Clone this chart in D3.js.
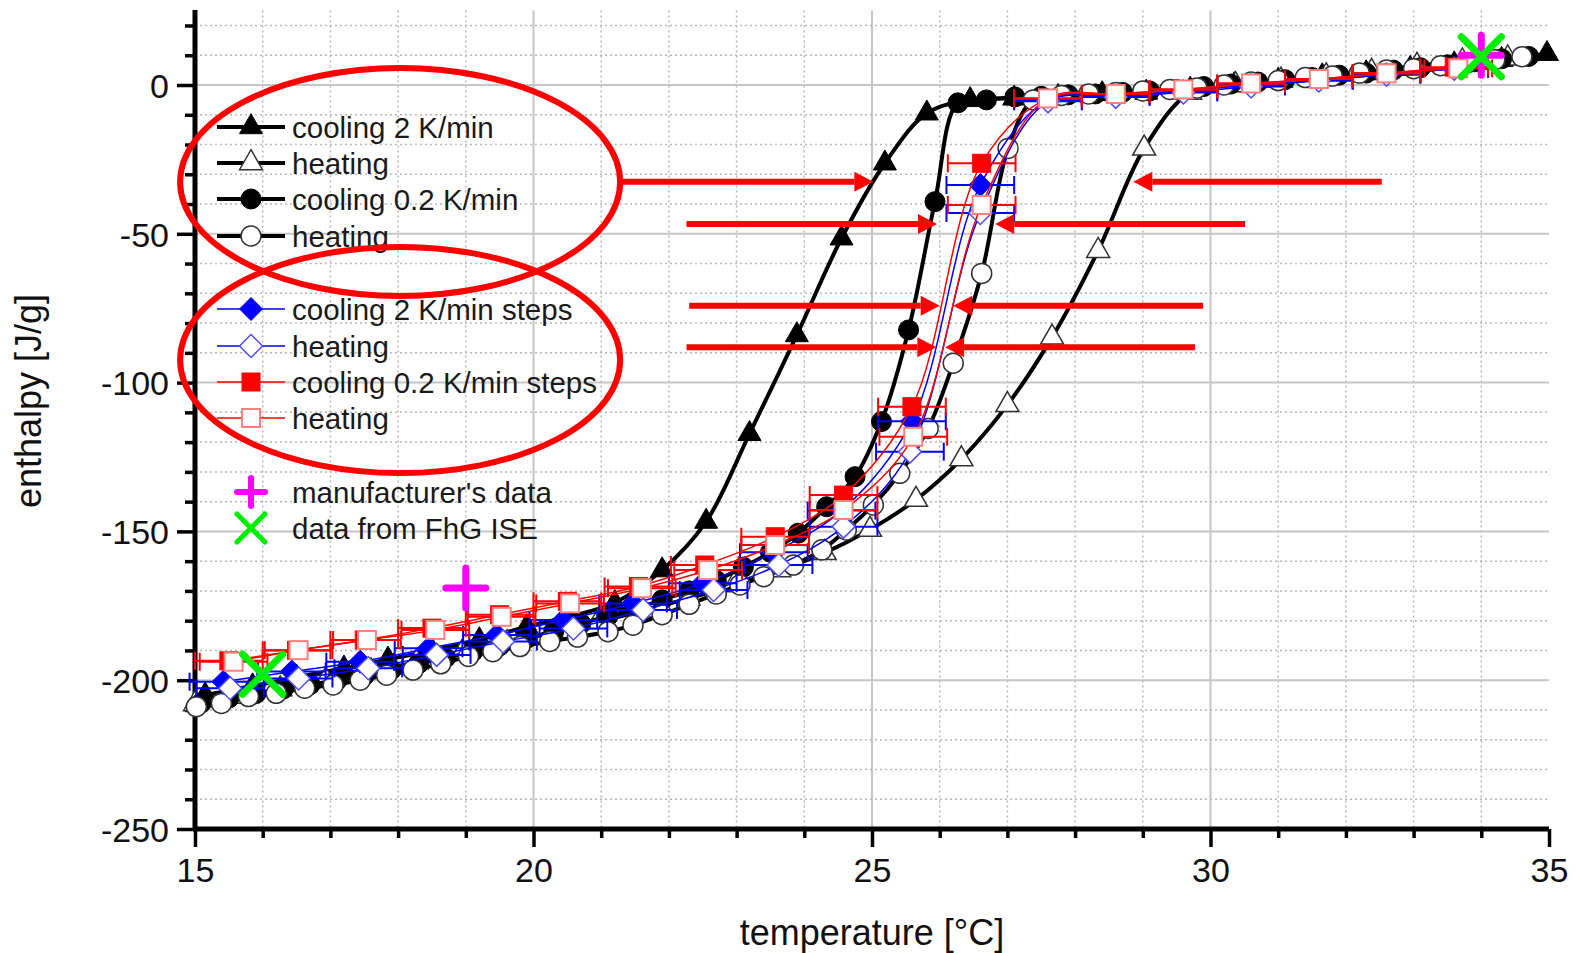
<!DOCTYPE html>
<html>
<head>
<meta charset="utf-8">
<script src="https://cdn.jsdelivr.net/npm/d3@7/dist/d3.min.js"></script>
<style>
body { margin: 0; background: #fff; }
svg { display: block; font-family: "Liberation Sans", Arial, sans-serif; }
</style>
</head>
<body>
<div id="chart"></div>
<script>
// all points are [temperature °C, enthalpy J/g]

var cooling2 = [[15.15,-205],[15.85,-202],[16.5,-199],[17.2,-196],[17.85,-193],[18.5,-190],[19.2,-186.5],[19.9,-182],
  [20.55,-178.5],[21.2,-174],[21.9,-163],[22.55,-146.7],[23.19,-117.2],[23.89,-84],[24.55,-51.5],[25.19,-26.3],
  [25.81,-9.5],[26.45,-5],[27.1,-4.5],[27.75,-4],[28.4,-3],[29.05,-2.5],[29.7,-1.5],[30.35,0],[31.0,1.5],
  [31.65,3],[32.3,4],[32.95,5.5],[33.6,7],[34.3,8.5],[34.97,10.5]];

var heating2 = [[15.0,-208],[15.59,-205.5],[16.26,-203],[16.93,-200],[17.6,-197],[18.27,-194],[18.94,-191],
  [19.61,-187.5],[20.28,-184],[20.95,-180.5],[21.62,-176.5],[22.29,-172.5],[22.96,-168],[23.63,-163],[24.3,-157.2],
  [24.97,-149.4],[25.65,-139.3],[26.32,-125.7],[27.0,-107.5],[27.66,-84.8],[28.34,-55.7],[29.02,-21.3],[29.7,-2.5],
  [30.37,0],[31.04,1.5],[31.71,3],[32.38,4.5],[33.05,6.5],[33.72,8],[34.39,9]];

var cooling02 = [[15.1,-207.5],[15.5,-206],[15.9,-204.5],[16.3,-203],[16.7,-201.5],[17.1,-200],[17.5,-198.5],
  [17.9,-196.5],[18.3,-194.5],[18.7,-192.5],[19.1,-190.5],[19.5,-188.5],[19.9,-186],[20.3,-183.5],[20.7,-181],
  [21.1,-178.5],[21.5,-176],[21.9,-173],[22.3,-170],[22.7,-166.5],[23.1,-162],[23.5,-157],[23.91,-150.6],
  [24.33,-141.7],[24.75,-131.6],[25.14,-113.1],[25.54,-82.3],[25.93,-39.2],[26.27,-6],[26.69,-5],[27.11,-4],
  [27.5,-3.8],[27.9,-3.3],[28.3,-3],[28.7,-2.5],[29.1,-2],[29.5,-1.5],[29.9,-0.5],[30.3,0.3],[30.7,1],[31.1,1.8],
  [31.5,2.5],[31.9,3.3],[32.3,4],[32.7,5],[33.1,5.8],[33.5,6.8],[33.9,7.8],[34.3,8.8],[34.7,9.6]];

var heating02 = [[15.02,-208.9],[15.39,-207.8],[15.79,-205.5],[16.2,-204.4],[16.62,-202.7],[17.04,-201.6],
  [17.44,-200],[17.83,-198.3],[18.22,-196.6],[18.63,-194.5],[19.04,-192],[19.4,-190.4],[19.8,-188.7],[20.24,-187],
  [20.65,-185.5],[21.1,-183.7],[21.47,-181.5],[21.9,-178],[22.3,-174.5],[22.7,-171],[23.05,-168],[23.4,-165.2],
  [23.84,-161.3],[24.26,-156.2],[24.62,-149.5],[25.02,-141.1],[25.41,-130.5],[25.83,-115.4],[26.2,-93.5],
  [26.62,-63.3],[27.01,-21.3],[27.38,-5],[27.8,-3.5],[28.2,-3],[28.6,-2.5],[29.0,-2],[29.4,-1.5],[29.8,-1],
  [30.2,0],[30.6,1],[31.0,1.5],[31.4,2.5],[31.8,3],[32.2,4],[32.6,5],[33.0,5.5],[33.4,6.5],[33.8,7.5],[34.2,8.5],[34.6,9.5]];

var cooling2Steps = [[15.42,-200.5],[16.43,-197.1],[17.44,-193.8],[18.45,-189.3],[19.46,-184.8],[20.44,-179.8],
  [21.47,-174.2],[22.5,-167.4],[23.55,-157],[24.55,-143],[25.59,-113],[26.6,-33.6],[27.6,-5],[28.6,-3.5],
  [29.6,-2],[30.6,0],[31.6,1.5],[32.6,3.5],[33.6,5.5]];

var heating2Steps = [[15.52,-202.7],[16.53,-199.4],[17.56,-196],[18.57,-191.5],[19.55,-187],[20.59,-182.6],
  [21.62,-176.4],[22.66,-169.7],[23.62,-161.3],[24.58,-148.4],[25.56,-123.2],[26.6,-43],[27.6,-5.5],[28.6,-4],
  [29.6,-2.5],[30.6,-0.5],[31.6,1.5],[32.6,3.5],[33.6,5.5]];

var cooling02Steps = [[15.5,-193.5],[16.5,-190],[17.5,-186.5],[18.5,-182.5],[19.5,-178],[20.5,-173.5],
  [21.55,-168.5],[22.53,-161.3],[23.57,-151.8],[24.58,-137.8],[25.59,-108.1],[26.62,-26.3],[27.6,-4.5],
  [28.6,-3],[29.6,-1.5],[30.6,0.5],[31.6,2],[32.6,4],[33.6,6]];

var heating02Steps = [[15.57,-193.8],[16.53,-189.9],[17.54,-186.5],[18.55,-183.1],[19.53,-178.7],[20.54,-174.2],
  [21.6,-169.1],[22.58,-163],[23.57,-154.6],[24.58,-142.8],[25.61,-118.2],[26.62,-40.3],[27.6,-4.5],[28.6,-3],
  [29.6,-1.5],[30.6,0.5],[31.6,2],[32.6,3.9],[33.66,5.6]];

var stepError = 0.5; // K, horizontal error of the step measurements

var manufacturerData = [[19,-169],[34,10]];
var fhgData = [[16,-198],[34,9.5]];

var xTicks = [15, 20, 25, 30, 35];
var yTicks = [-250, -200, -150, -100, -50, 0];

var legendLabels = ["cooling 2 K/min", "heating", "cooling 0.2 K/min", "heating",
  "cooling 2 K/min steps", "heating", "cooling 0.2 K/min steps", "heating",
  "manufacturer's data", "data from FhG ISE"];

// annotation arrows: [enthalpy level, start temperature, tip temperature]
var arrows = [[-32.5,21.28,25.02],[-46.7,22.26,25.96],[-46.7,30.51,26.82],[-32.5,32.53,28.86],
  [-74.2,22.3,26.0],[-74.2,29.89,26.2],[-88.1,22.26,25.95],[-88.1,29.77,26.08]];
// annotation ellipses: [centre temperature, centre enthalpy, half width K, half height J/g]
var ellipses = [[18.03,-32.6,3.25,38.3],[18.03,-92.4,3.25,38]];

var width = 1582, height = 953;

var svg = d3.select("#chart").append("svg")
  .attr("width", width)
  .attr("height", height);

var x = d3.scaleLinear().domain([15, 35]).range([195, 1549]);
var y = d3.scaleLinear().domain([-250, 25]).range([829, 10.6]);

// grid
var grid = svg.append("g");
d3.range(16, 35).forEach(function (t) {
  var major = t % 5 == 0;
  grid.append("line")
    .attr("x1", x(t)).attr("x2", x(t)).attr("y1", y(25)).attr("y2", y(-250))
    .attr("stroke", major ? "#c6c6c6" : "#b8b8b8")
    .attr("stroke-width", major ? 2 : 1.5)
    .attr("stroke-dasharray", major ? null : "2,3");
});
d3.range(-240, 21, 10).forEach(function (h) {
  var major = h % 50 == 0;
  grid.append("line")
    .attr("x1", x(15)).attr("x2", x(35)).attr("y1", y(h)).attr("y2", y(h))
    .attr("stroke", major ? "#c6c6c6" : "#b8b8b8")
    .attr("stroke-width", major ? 2 : 1.5)
    .attr("stroke-dasharray", major ? null : "2,3");
});

// axes (plain hyphen for negative labels, like the original)
var plain = function (d) { return String(d); };
var xAxis = svg.append("g").attr("transform", "translate(0," + y(-250) + ")")
  .call(d3.axisBottom(x).tickValues(xTicks).tickSize(18).tickPadding(11).tickFormat(plain));
var xMinor = svg.append("g").attr("transform", "translate(0," + y(-250) + ")")
  .call(d3.axisBottom(x).tickValues(d3.range(16, 35).filter(function (t) { return t % 5 != 0; })).tickSize(9).tickFormat(""));
var yAxis = svg.append("g").attr("transform", "translate(" + x(15) + ",0)")
  .call(d3.axisLeft(y).tickValues(yTicks).tickSize(18).tickPadding(8).tickFormat(plain));
var yMinor = svg.append("g").attr("transform", "translate(" + x(15) + ",0)")
  .call(d3.axisLeft(y).tickValues(d3.range(-240, 21, 10).filter(function (h) { return h % 50 != 0; })).tickSize(10).tickFormat(""));

[xAxis, xMinor, yAxis, yMinor].forEach(function (a) {
  a.select(".domain").remove();
  a.selectAll(".tick line").attr("stroke", "#000").attr("stroke-width", 3.5);
  a.selectAll("text").attr("font-size", 34).attr("fill", "#111")
    .attr("font-family", "Liberation Sans, Arial, sans-serif");
});
yAxis.selectAll("text").attr("dy", "0.36em");
xAxis.selectAll("text").attr("dy", "0.72em");

svg.append("line").attr("x1", x(15)).attr("x2", x(15)).attr("y1", 10).attr("y2", y(-250) + 2)
  .attr("stroke", "#000").attr("stroke-width", 5);
svg.append("line").attr("x1", x(15) - 2).attr("x2", x(35)).attr("y1", y(-250)).attr("y2", y(-250))
  .attr("stroke", "#000").attr("stroke-width", 5);

svg.append("text").attr("x", (x(15) + x(35)) / 2).attr("y", 945)
  .attr("text-anchor", "middle").attr("font-size", 36).attr("fill", "#111")
  .text("temperature [°C]");
svg.append("text").attr("transform", "translate(41,401) rotate(-90)")
  .attr("text-anchor", "middle").attr("font-size", 36).attr("fill", "#111")
  .text("enthalpy [J/g]");

// markers
function drawMarker(g, type, cx, cy, s) {
  var p;
  if (type == "circle") {
    p = g.append("circle").attr("cx", cx).attr("cy", cy).attr("r", 10);
  } else if (type == "tri") {
    p = g.append("path").attr("d", "M" + cx + "," + (cy - 13.3) + "L" + (cx + 11.5) + "," + (cy + 6.7) + "L" + (cx - 11.5) + "," + (cy + 6.7) + "Z");
  } else if (type == "diamond") {
    p = g.append("path").attr("d", "M" + cx + "," + (cy - 11.5) + "L" + (cx + 11.5) + "," + cy + "L" + cx + "," + (cy + 11.5) + "L" + (cx - 11.5) + "," + cy + "Z");
  } else {
    p = g.append("rect").attr("x", cx - 9).attr("y", cy - 9).attr("width", 18).attr("height", 18);
  }
  p.attr("fill", s.fill).attr("stroke", s.stroke).attr("stroke-width", s.sw);
}

var series = [
  { data: cooling2, type: "tri", line: "#000", lw: 4, fill: "#000", stroke: "#000", sw: 1 },
  { data: heating2, type: "tri", line: "#000", lw: 4, fill: "#fff", stroke: "#333", sw: 1.5 },
  { data: cooling02, type: "circle", line: "#000", lw: 4, fill: "#000", stroke: "#000", sw: 1 },
  { data: heating02, type: "circle", line: "#000", lw: 4, fill: "#fff", stroke: "#333", sw: 1.5 },
  { data: cooling2Steps, type: "diamond", line: "#0000ff", lw: 1.5, fill: "#0000ff", stroke: "#0000ff", sw: 1, err: true },
  { data: heating2Steps, type: "diamond", line: "#0000ff", lw: 1.5, fill: "#fff", stroke: "#4d4dff", sw: 1.5, err: true },
  { data: cooling02Steps, type: "square", line: "#ff0000", lw: 1.5, fill: "#ff0000", stroke: "#ff0000", sw: 1, err: true },
  { data: heating02Steps, type: "square", line: "#ff0000", lw: 1.5, fill: "#fff", stroke: "#ff7f7f", sw: 2, err: true }
];

var line = d3.line()
  .x(function (d) { return x(d[0]); })
  .y(function (d) { return y(d[1]); })
  .curve(d3.curveCatmullRom.alpha(0.5));

series.forEach(function (s) {
  var g = svg.append("g");
  g.append("path").attr("d", line(s.data)).attr("fill", "none")
    .attr("stroke", s.line).attr("stroke-width", s.lw).attr("stroke-linejoin", "round");
  if (s.err) {
    s.data.forEach(function (d) {
      var x1 = x(d[0] - stepError), x2 = x(d[0] + stepError), yy = y(d[1]);
      g.append("line").attr("x1", x1).attr("x2", x2).attr("y1", yy).attr("y2", yy)
        .attr("stroke", s.line).attr("stroke-width", 2);
      [x1, x2].forEach(function (xx) {
        g.append("line").attr("x1", xx).attr("x2", xx).attr("y1", yy - 9).attr("y2", yy + 9)
          .attr("stroke", s.line).attr("stroke-width", 2);
      });
    });
  }
  s.data.forEach(function (d) { drawMarker(g, s.type, x(d[0]), y(d[1]), s); });
});

function drawPlus(g, cx, cy, r, w) {
  g.append("path").attr("d", "M" + (cx - r) + "," + cy + "H" + (cx + r) + "M" + cx + "," + (cy - r) + "V" + (cy + r))
    .attr("stroke", "#ff00ff").attr("stroke-width", w).attr("stroke-linecap", "round");
}
function drawCross(g, cx, cy, r, w) {
  g.append("path").attr("d", "M" + (cx - r) + "," + (cy - r) + "L" + (cx + r) + "," + (cy + r) + "M" + (cx - r) + "," + (cy + r) + "L" + (cx + r) + "," + (cy - r))
    .attr("stroke", "#00ee00").attr("stroke-width", w).attr("stroke-linecap", "round");
}
var special = svg.append("g");
manufacturerData.forEach(function (d) { drawPlus(special, x(d[0]), y(d[1]), 20, 7); });
fhgData.forEach(function (d) { drawCross(special, x(d[0]), y(d[1]), 20, 7); });

// legend
var legendY = [127, 163, 199, 236, 309, 346, 382, 418, 492, 528];
var legend = svg.append("g");
legendLabels.forEach(function (label, i) {
  var ly = legendY[i];
  if (i < 8) {
    var s = series[i];
    legend.append("line").attr("x1", 217).attr("x2", 285).attr("y1", ly).attr("y2", ly)
      .attr("stroke", s.line).attr("stroke-width", s.lw);
    drawMarker(legend, s.type, 251, ly, s);
  } else if (i == 8) {
    drawPlus(legend, 251, ly, 14, 6);
  } else {
    drawCross(legend, 251, ly, 14, 5);
  }
  legend.append("text").attr("x", 292).attr("y", ly + 10.5)
    .attr("font-size", 29.5).attr("fill", "#1a1a1a").text(label);
});

// annotations
var notes = svg.append("g");
ellipses.forEach(function (e) {
  notes.append("ellipse")
    .attr("cx", x(e[0])).attr("cy", y(e[1]))
    .attr("rx", x(e[0] + e[2]) - x(e[0])).attr("ry", y(e[1] - e[3]) - y(e[1]))
    .attr("fill", "none").attr("stroke", "#ff0000").attr("stroke-width", 6);
});
arrows.forEach(function (a) {
  var ay = y(a[0]), x0 = x(a[1]), tip = x(a[2]);
  var dir = tip > x0 ? 1 : -1;
  var base = tip - dir * 19;
  notes.append("line").attr("x1", x0).attr("x2", base).attr("y1", ay).attr("y2", ay)
    .attr("stroke", "#ff0000").attr("stroke-width", 6);
  notes.append("path")
    .attr("d", "M" + tip + "," + ay + "L" + base + "," + (ay - 10) + "L" + base + "," + (ay + 10) + "Z")
    .attr("fill", "#ff0000");
});
</script>
</body>
</html>
